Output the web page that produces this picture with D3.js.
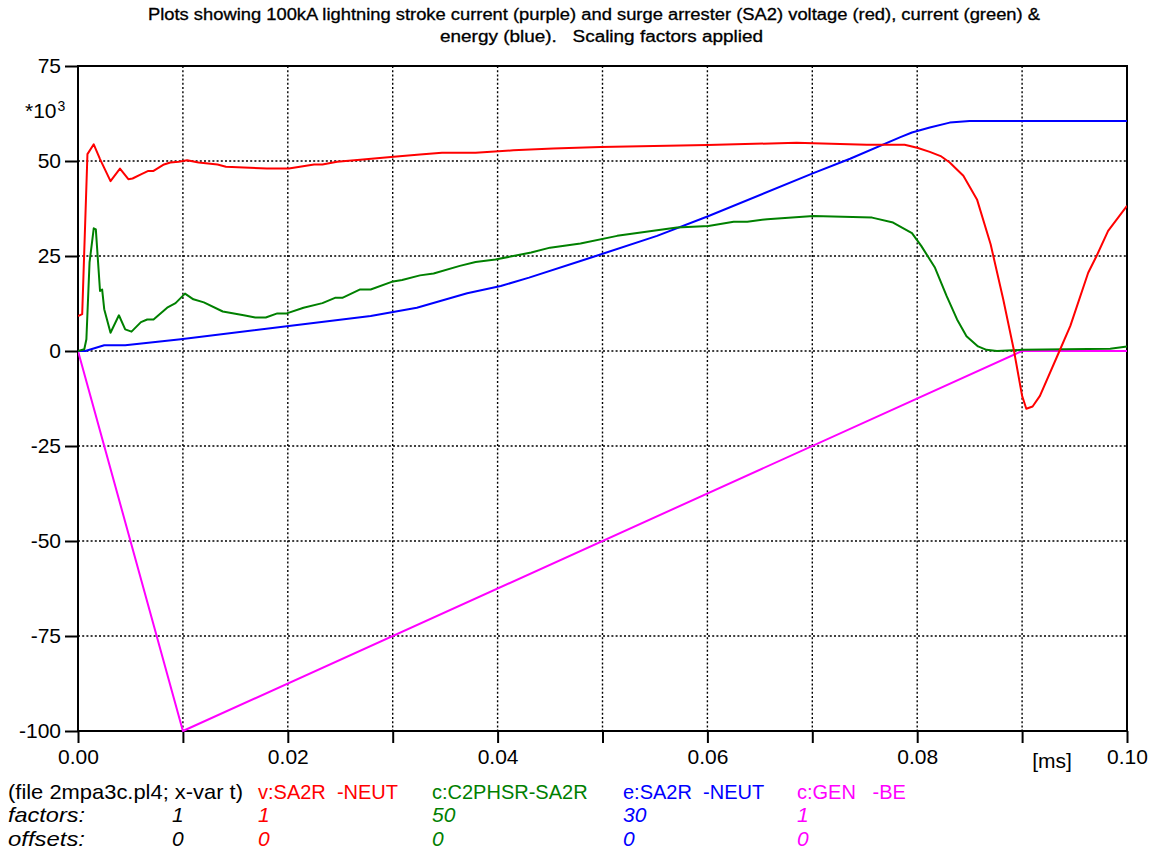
<!DOCTYPE html>
<html>
<head>
<meta charset="utf-8" />
<title>Lightning stroke and surge arrester SA2</title>
<script src="https://cdnjs.cloudflare.com/ajax/libs/d3/7.8.5/d3.min.js"></script>
<style>
  body { margin: 0; padding: 0; background: #fff; }
  svg text { font-family: "Liberation Sans", Arial, sans-serif; }
</style>
</head>
<body>
<div id="chart"></div>
<script>
// time in ms, values as shown on the axis (*10^3)
var redT = [0, 0.0004, 0.0009, 0.0015, 0.0021, 0.0031, 0.0040, 0.0048, 0.0052, 0.0060, 0.0067, 0.0072, 0.0082, 0.0088, 0.0096, 0.0104, 0.0115, 0.0133, 0.0141, 0.0158, 0.0180, 0.0201, 0.0225, 0.0233, 0.0247, 0.0269, 0.0301, 0.0326, 0.0347, 0.0379, 0.0415, 0.0453, 0.0498, 0.0600, 0.0685, 0.0701, 0.0752, 0.0788, 0.0800, 0.0812, 0.0823, 0.0831, 0.0844, 0.0857, 0.0870, 0.0882, 0.0892, 0.0900, 0.0904, 0.0910, 0.0917, 0.0935, 0.0946, 0.0963, 0.0971, 0.0982, 0.1000];
var redV = [9.2, 9.7, 51.8, 54.4, 50.5, 44.7, 48.0, 45.2, 45.4, 46.5, 47.4, 47.4, 49.1, 49.6, 49.8, 50.2, 49.6, 49.1, 48.5, 48.3, 48.0, 48.0, 49.1, 49.1, 49.8, 50.3, 51.1, 51.7, 52.2, 52.2, 52.8, 53.3, 53.7, 54.2, 54.8, 54.7, 54.3, 54.3, 53.5, 52.4, 51.2, 49.6, 46.1, 39.9, 28.1, 13.6, 0.45, -11.8, -15.2, -14.6, -11.8, -0.4, 6.6, 20.6, 25.0, 31.6, 38.2];

var greenT = [0, 0.0006, 0.0008, 0.0011, 0.0015, 0.0017, 0.0021, 0.0023, 0.0025, 0.0031, 0.0039, 0.0045, 0.0051, 0.0060, 0.0066, 0.0072, 0.0085, 0.0093, 0.0102, 0.0110, 0.0120, 0.0138, 0.0158, 0.0169, 0.0179, 0.0190, 0.0199, 0.0215, 0.0233, 0.0245, 0.0252, 0.0269, 0.0279, 0.0299, 0.0309, 0.0326, 0.0339, 0.0364, 0.0379, 0.0398, 0.0432, 0.0450, 0.0479, 0.0514, 0.0571, 0.0601, 0.0625, 0.0638, 0.0657, 0.0701, 0.0757, 0.0777, 0.0795, 0.0804, 0.0817, 0.0828, 0.0838, 0.0847, 0.0858, 0.0866, 0.0876, 0.0900, 0.0984, 0.1000];
var greenV = [0, 0.45, 3.1, 23.3, 32.3, 32.0, 15.8, 16.2, 11.0, 4.8, 9.4, 5.7, 5.1, 7.6, 8.3, 8.3, 11.4, 12.6, 15.1, 13.6, 12.8, 10.4, 9.4, 8.8, 8.8, 9.9, 9.9, 11.4, 12.6, 14.0, 14.0, 16.2, 16.2, 18.2, 18.7, 19.9, 20.4, 22.4, 23.4, 24.1, 25.9, 27.2, 28.3, 30.3, 32.5, 32.9, 34.0, 34.0, 34.7, 35.5, 35.1, 33.8, 31.0, 27.6, 21.9, 14.5, 8.3, 3.9, 1.2, 0.3, 0.0, 0.3, 0.6, 1.2];

var blueT = [0, 0.0007, 0.0025, 0.0045, 0.0098, 0.0201, 0.0279, 0.0323, 0.0371, 0.0403, 0.0430, 0.0479, 0.0498, 0.0552, 0.0600, 0.0701, 0.0736, 0.0784, 0.0795, 0.0812, 0.0831, 0.0850, 0.1000];
var blueV = [0, 0, 1.5, 1.5, 3.1, 6.6, 9.2, 11.4, 15.2, 17.1, 19.3, 23.7, 25.4, 30.3, 35.4, 46.8, 50.6, 56.3, 57.5, 58.8, 60.1, 60.5, 60.5];

var magT = [0, 0.01, 0.09, 0.1];
var magV = [0, -100, 0, 0];

var yTicks = [75, 50, 25, 0, -25, -50, -75, -100];
var xTicks = [0, 0.01, 0.02, 0.03, 0.04, 0.05, 0.06, 0.07, 0.08, 0.09, 0.1];
var xLabels = [0, 0.02, 0.04, 0.06, 0.08, 0.1];

var legendNames = ["v:SA2R  -NEUT", "c:C2PHSR-SA2R", "e:SA2R  -NEUT", "c:GEN   -BE"];
var legendFactors = ["1", "50", "30", "1"];
var legendOffsets = ["0", "0", "0", "0"];
var legendColors = ["#ff0000", "#008000", "#0000ff", "#ff00ff"];

var W = 1158, H = 852;
var pLeft = 78, pRight = 1127, pTop = 66, pBottom = 731;

var svg = d3.select("#chart").append("svg").attr("width", W).attr("height", H);

var x = d3.scaleLinear().domain([0, 0.1]).range([pLeft, pRight]);
var y = d3.scaleLinear().domain([-100, 75]).range([pBottom, pTop]);

// title
svg.append("text").attr("x", 148).attr("y", 20).attr("font-size", 16)
  .attr("textLength", 892).attr("lengthAdjust", "spacingAndGlyphs")
  .attr("stroke", "#000").attr("stroke-width", 0.3)
  .text("Plots showing 100kA lightning stroke current (purple) and surge arrester (SA2) voltage (red), current (green) &");
svg.append("text").attr("x", 440).attr("y", 42).attr("font-size", 16)
  .attr("textLength", 323).attr("lengthAdjust", "spacingAndGlyphs")
  .attr("stroke", "#000").attr("stroke-width", 0.3)
  .attr("xml:space", "preserve")
  .text("energy (blue).   Scaling factors applied");

// grid
var grid = svg.append("g").attr("stroke", "#000").attr("stroke-width", 1.4).attr("stroke-dasharray", "2,2.2");
grid.selectAll(".vg").data(xTicks.slice(1, -1)).enter().append("line")
  .attr("x1", d => x(d)).attr("x2", d => x(d)).attr("y1", pTop).attr("y2", pBottom);
grid.selectAll(".hg").data(yTicks.slice(1, -1)).enter().append("line")
  .attr("x1", pLeft).attr("x2", pRight).attr("y1", d => y(d)).attr("y2", d => y(d));

// axes
var yAxis = d3.axisLeft(y).tickValues(yTicks).tickSize(13).tickPadding(4).tickFormat(d => String(d));
var gy = svg.append("g").attr("transform", "translate(" + pLeft + ",0)").call(yAxis);
gy.select(".domain").remove();
gy.selectAll("line").attr("stroke-width", 2);
gy.selectAll("text").attr("font-size", 21).attr("fill", "#000");

var xAxis = d3.axisBottom(x).tickValues(xTicks).tickSize(12).tickPadding(6)
  .tickFormat(d => xLabels.indexOf(d) > -1 ? d.toFixed(2) : "");
var gx = svg.append("g").attr("transform", "translate(0," + pBottom + ")").call(xAxis);
gx.select(".domain").remove();
gx.selectAll("line").attr("stroke-width", 2);
gx.selectAll("text").attr("font-size", 21).attr("fill", "#000");

svg.append("text").attr("x", 1052).attr("y", 768).attr("font-size", 21).attr("text-anchor", "middle").text("[ms]");

var sc = svg.append("text").attr("x", 25).attr("y", 118).attr("font-size", 21);
sc.append("tspan").text("*10");
sc.append("tspan").attr("font-size", 14).attr("dy", -7).attr("dx", 1).text("3");

// frame
svg.append("rect").attr("x", pLeft).attr("y", pTop).attr("width", pRight - pLeft).attr("height", pBottom - pTop)
  .attr("fill", "none").attr("stroke", "#000").attr("stroke-width", 2);

svg.append("clipPath").attr("id", "clip").append("rect")
  .attr("x", pLeft).attr("y", pTop - 2).attr("width", pRight - pLeft).attr("height", pBottom - pTop + 4);

var line = d3.line().x(d => x(d[0])).y(d => y(d[1]));
function series(t, v, color) {
  svg.append("path").datum(d3.zip(t, v)).attr("d", line).attr("fill", "none")
    .attr("stroke", color).attr("stroke-width", 2).attr("stroke-linejoin", "round")
    .attr("clip-path", "url(#clip)");
}
series(magT, magV, "#ff00ff");
series(blueT, blueV, "#0000ff");
series(greenT, greenV, "#008000");
series(redT, redV, "#ff0000");

// legend block
var lx = [258, 432, 623, 797];
svg.append("text").attr("x", 8).attr("y", 799).attr("font-size", 21)
  .attr("textLength", 235).attr("lengthAdjust", "spacingAndGlyphs").text("(file 2mpa3c.pl4; x-var t)");
svg.append("text").attr("x", 8).attr("y", 822).attr("font-size", 21).attr("font-style", "italic")
  .attr("textLength", 77).attr("lengthAdjust", "spacingAndGlyphs").text("factors:");
svg.append("text").attr("x", 8).attr("y", 846).attr("font-size", 21).attr("font-style", "italic")
  .attr("textLength", 77).attr("lengthAdjust", "spacingAndGlyphs").text("offsets:");
svg.append("text").attr("x", 172).attr("y", 822).attr("font-size", 21).attr("font-style", "italic").text("1");
svg.append("text").attr("x", 172).attr("y", 846).attr("font-size", 21).attr("font-style", "italic").text("0");
legendNames.forEach(function(n, i) {
  svg.append("text").attr("x", lx[i]).attr("y", 799).attr("font-size", 20).attr("fill", legendColors[i])
    .attr("xml:space", "preserve").text(n);
  svg.append("text").attr("x", lx[i]).attr("y", 822).attr("font-size", 21).attr("font-style", "italic")
    .attr("fill", legendColors[i]).text(legendFactors[i]);
  svg.append("text").attr("x", lx[i]).attr("y", 846).attr("font-size", 21).attr("font-style", "italic")
    .attr("fill", legendColors[i]).text(legendOffsets[i]);
});
</script>
</body>
</html>
